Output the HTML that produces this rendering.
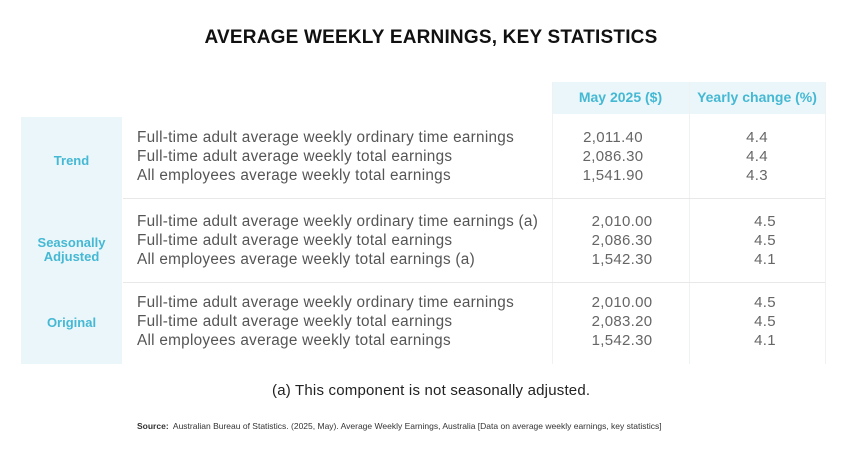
<!DOCTYPE html>
<html><head><meta charset="utf-8"><style>
body{margin:0;width:862px;height:462px;background:#fff;position:relative;font-family:"Liberation Sans",sans-serif;overflow:hidden}
div{position:absolute;white-space:nowrap}
.t{font-size:15.3px;color:#555;line-height:19px;letter-spacing:0.28px}
.n{font-size:15px;color:#666;line-height:19px;letter-spacing:0.3px}
.c{text-align:center}
.lab{color:#45b8d4;font-weight:bold;font-size:13px;text-align:center;width:101px;left:21px;line-height:14px}
</style></head><body>
<div style="left:0;width:862px;top:27px;text-align:center;font-weight:bold;font-size:19px;color:#111;letter-spacing:0.2px">AVERAGE WEEKLY EARNINGS, KEY STATISTICS</div>
<div style="left:21px;top:117px;width:101px;height:247px;background:#eaf6f9"></div>
<div style="left:552px;top:82px;width:273px;height:32px;background:#eaf6f9"></div>
<div style="left:552px;top:82px;width:1px;height:282px;background:#eef2f3"></div>
<div style="left:689px;top:82px;width:1px;height:282px;background:#eef2f3"></div>
<div style="left:825px;top:82px;width:1px;height:282px;background:#eef2f3"></div>
<div style="left:123px;top:198px;width:702px;height:1px;background:#e8e8e8"></div>
<div style="left:123px;top:282px;width:702px;height:1px;background:#e8e8e8"></div>
<div style="left:552px;top:89px;width:137px;color:#45b8d4;font-weight:bold;font-size:14px" class="c">May 2025 ($)</div>
<div style="left:689px;top:89px;width:136px;color:#45b8d4;font-weight:bold;font-size:14px" class="c">Yearly change (%)</div>

<div class="lab" style="top:154px">Trend</div>
<div class="lab" style="top:236px">Seasonally<br>Adjusted</div>
<div class="lab" style="top:316px">Original</div>

<div class="t" style="left:137px;top:128px">Full-time adult average weekly ordinary time earnings<br>Full-time adult average weekly total earnings<br>All employees average weekly total earnings</div>
<div class="n c" style="left:563px;width:100px;top:128px">2,011.40<br>2,086.30<br>1,541.90</div>
<div class="n c" style="left:707px;width:100px;top:128px">4.4<br>4.4<br>4.3</div>

<div class="t" style="left:137px;top:212px">Full-time adult average weekly ordinary time earnings (a)<br>Full-time adult average weekly total earnings<br>All employees average weekly total earnings (a)</div>
<div class="n c" style="left:572px;width:100px;top:212px">2,010.00<br>2,086.30<br>1,542.30</div>
<div class="n c" style="left:715px;width:100px;top:212px">4.5<br>4.5<br>4.1</div>

<div class="t" style="left:137px;top:293px">Full-time adult average weekly ordinary time earnings<br>Full-time adult average weekly total earnings<br>All employees average weekly total earnings</div>
<div class="n c" style="left:572px;width:100px;top:293px">2,010.00<br>2,083.20<br>1,542.30</div>
<div class="n c" style="left:715px;width:100px;top:293px">4.5<br>4.5<br>4.1</div>

<div style="left:272px;top:382px;font-size:15px;color:#222;letter-spacing:0.2px">(a) This component is not seasonally adjusted.</div>
<div style="left:137px;top:421px;font-size:8.5px;color:#333"><b>Source:</b>&nbsp; Australian Bureau of Statistics. (2025, May). Average Weekly Earnings, Australia [Data on average weekly earnings, key statistics]</div>
</body></html>
